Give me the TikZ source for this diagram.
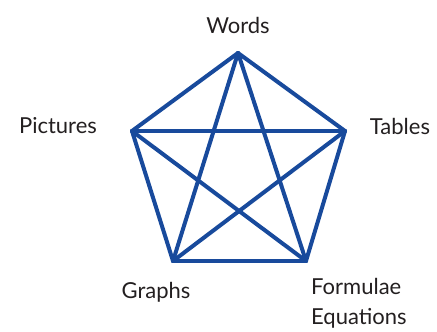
\documentclass[tikz,border=0pt]{standalone}
\usepackage{fontspec}
\setmainfont{Lato}
\definecolor{edgeblue}{RGB}{24,74,156}
\definecolor{txt}{RGB}{35,31,32}
\begin{document}
\begin{tikzpicture}[x=1pt,y=-1pt,
  edge/.style={draw=edgeblue,line width=4pt,line cap=round,line join=round},
  lbl/.style={text=txt,font=\fontsize{22}{30}\selectfont,inner sep=0pt}]
\useasboundingbox (0,0) rectangle (437,332);
\coordinate (W) at (238,53);
\coordinate (P) at (132,131);
\coordinate (T) at (345,131);
\coordinate (G) at (173,261);
\coordinate (F) at (306,261);
\draw[edge] (W) -- (P);
\draw[edge] (W) -- (T);
\draw[edge] (W) -- (G);
\draw[edge] (W) -- (F);
\draw[edge] (P) -- (T);
\draw[edge] (P) -- (G);
\draw[edge] (P) -- (F);
\draw[edge] (T) -- (G);
\draw[edge] (T) -- (F);
\draw[edge] (G) -- (F);
\node[lbl] (lw) at (238,25) {Words};
\node[lbl] (lp) at (58,126) {Pictures};
\node[lbl] (lt) at (400,126) {Tables};
\node[lbl] (lg) at (156,292) {Graphs};
\node[lbl,align=left,anchor=west] (lf) at (311,303) {Formulae\\Equations};
\end{tikzpicture}
\end{document}
